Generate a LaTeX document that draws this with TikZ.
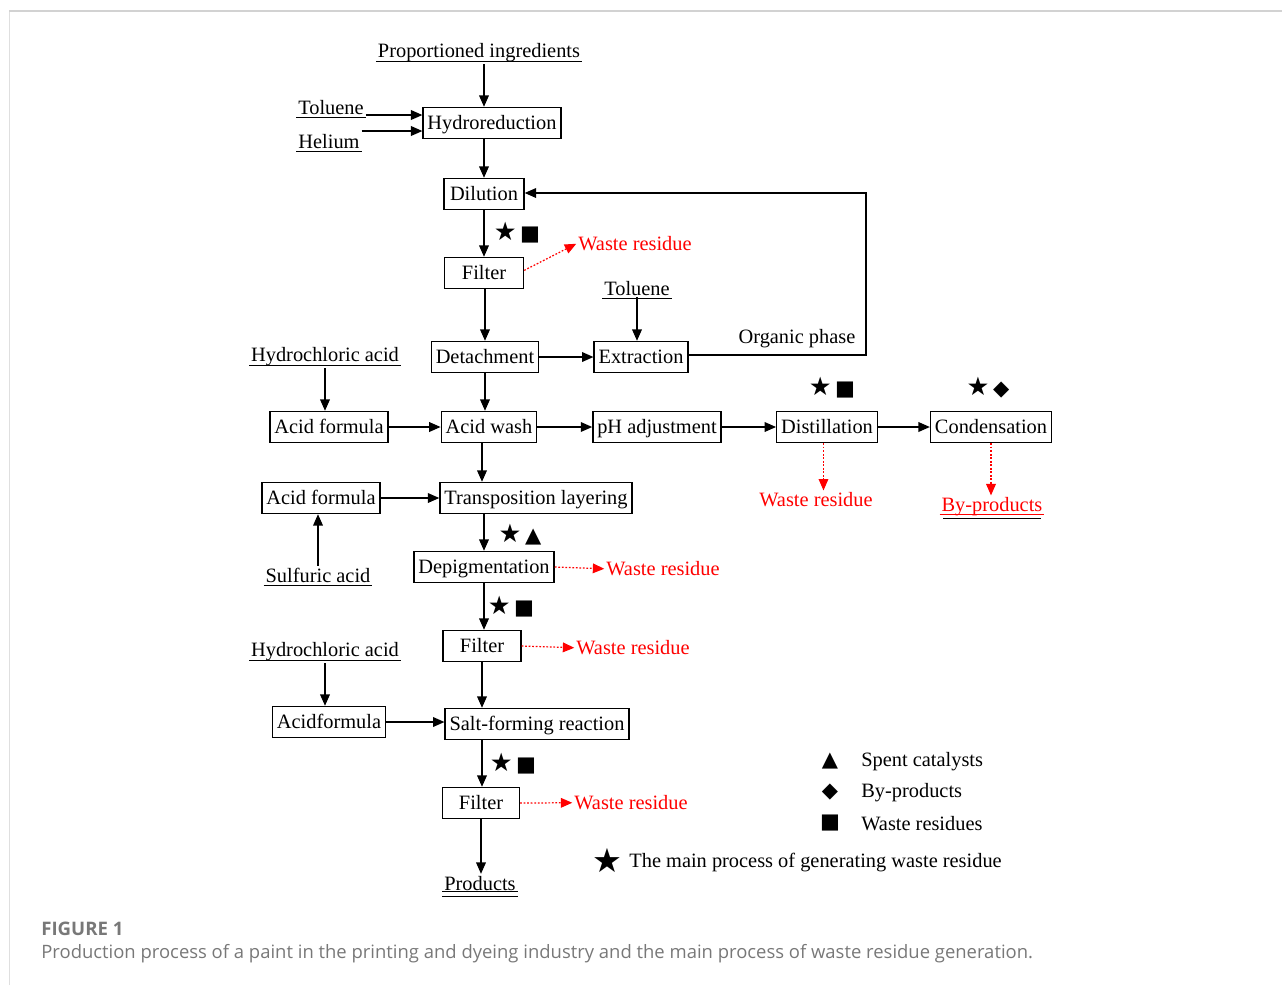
\documentclass[tikz,border=0pt]{standalone}
\usepackage{fontspec}
\setmainfont{Liberation Serif}
\newfontfamily\figcapfont{Open Sans}
\newfontfamily\dvsfont{DejaVu Sans}
\usetikzlibrary{arrows.meta}
\definecolor{capgray}{RGB}{120,120,120}
\definecolor{framegray}{RGB}{210,210,210}
\newcommand{\bigstar}{{\fontsize{14.5}{14}\selectfont★}}

\begin{document}
\begin{tikzpicture}[x=0.02cm,y=-0.02cm,
  font=\fontsize{11.6}{13}\selectfont,
  proc/.style={shape=rectangle,draw=black,line width=0.8pt,inner xsep=2.5pt,inner ysep=0pt,text height=0.82em,text depth=0.12em,minimum height=0.62cm},
  feed/.style={inner sep=1pt,yshift=-1.2pt},
  wtext/.style={text=red,inner sep=1pt,yshift=-1pt},
  sym/.style={inner sep=0pt,font=\dvsfont\fontsize{12}{13}\selectfont},
  note/.style={anchor=west,inner sep=0pt},
  arr/.style={line width=0.8pt,-{Triangle[length=6.5pt,width=5.5pt]}},
  waste/.style={red,line width=0.7pt,dash pattern=on 1pt off 1pt,-{Triangle[length=6.5pt,width=5.5pt]}}]
\useasboundingbox (0,0) rectangle (1282,985);

% frame
\draw[framegray!70,line width=0.5pt] (9,985) -- (9,11);
\draw[framegray,line width=1.2pt] (9,11) -- (1282,11);

% inputs and process steps
\node[feed] (prop) at (479,51) {Proportioned ingredients};
\node[feed] (tol1) at (331,105) {Toluene};
\node[feed] (hel) at (329,139) {Helium};
\node[proc] (hydro) at (492,123) {Hydroreduction};
\node[proc,minimum width=1.6cm] (dil) at (484,194) {Dilution};
\node[proc,minimum width=1.58cm] (filt1) at (484,273) {Filter};
\node[wtext] (wr1) at (635,242) {Waste residue};
\node[feed] (tol2) at (637,286) {Toluene};
\node[proc] (det) at (485,357) {Detachment};
\node[proc] (ext) at (641,357) {Extraction};
\node (org) at (797,339) {Organic phase};
\node[feed] (hcl1) at (325,355) {Hydrochloric acid};
\node[proc] (af1) at (329,427) {Acid formula};
\node[proc] (wash) at (489,427) {Acid wash};
\node[proc] (ph) at (657,427) {pH adjustment};
\node[proc] (dist) at (827,427) {Distillation};
\node[proc] (cond) at (991,427) {Condensation};
\node[wtext] (wr2) at (816,498) {Waste residue};
\node[wtext] (byp) at (992,505) {By-products};
\node[proc] (af2) at (321,498) {Acid formula};
\node[proc] (trans) at (536,498) {Transposition layering};
\node[feed] (sulf) at (318,573) {Sulfuric acid};
\node[proc] (depig) at (484,567) {Depigmentation};
\node[wtext] (wr3) at (663,567) {Waste residue};
\node[proc,minimum width=1.56cm] (filt2) at (482,646) {Filter};
\node[wtext] (wr4) at (633,646) {Waste residue};
\node[feed] (hcl2) at (325,650) {Hydrochloric acid};
\node[proc] (af3) at (329,722) {Acidformula};
\node[proc] (salt) at (537,724) {Salt-forming reaction};
\node[proc,minimum width=1.54cm] (filt3) at (481,803) {Filter};
\node[wtext] (wr5) at (631,801) {Waste residue};
\node[feed] (prod) at (480,881) {Products};

% markers
\node[sym] (s1) at (517,233) {\bigstar\,■};
\node[sym] (s2) at (832,388) {\bigstar\,■};
\node[sym] (s3) at (988,388) {\bigstar\,◆};
\node[sym] (s4) at (520,535) {\bigstar\,▲};
\node[sym] (s5) at (511,607) {\bigstar\,■};
\node[sym] (s6) at (513,764) {\bigstar\,■};

% underlines
\foreach \n in {prop,tol1,hel,tol2,hcl1,sulf,hcl2}
  \draw[line width=0.6pt] ([yshift=-2pt]\n.base west) -- ([yshift=-2pt]\n.base east);
\draw[line width=0.6pt] ([yshift=-1pt]prod.base west) -- ([yshift=-1pt]prod.base east);
\draw[line width=0.6pt] ([yshift=-3.5pt]prod.base west) -- ([yshift=-3.5pt]prod.base east);
\draw[red,line width=0.6pt] ([yshift=-1.5pt]byp.base west) -- ([yshift=-1.5pt]byp.base east);
\draw[line width=0.6pt] ([yshift=-4pt,xshift=2pt]byp.base west) -- ([yshift=-4pt,xshift=-2pt]byp.base east);

% main flow
\draw[arr] (prop.south -| dil) -- (hydro.north -| dil);
\draw[arr] (tol1.east |- 0,115) -- (hydro.west |- 0,115);
\draw[arr] (hel.east |- 0,131) -- (hydro.west |- 0,131);
\draw[arr] (hydro.south -| dil) -- (dil.north);
\draw[arr] (dil.south) -- (filt1.north);
\draw[waste] ([yshift=1.5pt]filt1.east) -- (wr1.west);
\draw[arr] (filt1.south -| det) -- (det.north);
\draw[arr] (tol2.south) -- (tol2.south |- ext.north);
\draw[arr] (det) -- (ext);
\coordinate (loop) at (866,193);
\draw[arr] (ext.east |- 0,355) -| (loop) -- (dil.east |- loop);
\draw[arr] (hcl1.south) -- (hcl1.south |- af1.north);
\draw[arr] (det.south) -- (det.south |- wash.north);
\draw[arr] (af1) -- (wash);
\draw[arr] (wash) -- (ph);
\draw[arr] (ph) -- (dist);
\draw[arr] (dist) -- (cond);
\draw[waste] ([xshift=-2pt]dist.south) -- ([xshift=-2pt]dist.south |- wr2.north);
\draw[waste] (cond.south) -- (cond.south |- byp.north);
\draw[arr] (wash.south -| filt2) -- (filt2 |- trans.north);
\draw[arr] (af2) -- (trans);
\draw[arr] (sulf.north) -- (sulf.north |- af2.south);
\draw[arr] (trans.south -| depig) -- (depig.north);
\draw[waste] (depig.east) -- (wr3.west);
\draw[arr] (depig.south) -- (depig.south |- filt2.north);
\draw[waste] (filt2.east) -- (wr4.west);
\draw[arr] (hcl2.south) -- (hcl2.south |- af3.north);
\draw[arr] (filt2.south) -- (filt2.south |- salt.north);
\draw[arr] (af3.east) -- (salt.west |- af3.east);
\draw[arr] (salt.south -| filt2) -- (filt3.north -| filt2);
\draw[waste] (filt3.east) -- (wr5.west);
\draw[arr] (filt3.south) -- (filt3.south |- prod.north);

% legend
\node[sym] (ktri) at (830,761) {▲};
\node[note] (ltri) at (861,762) {Spent catalysts};
\node[sym] (kdia) at (830,792) {◆};
\node[note] (ldia) at (861,793) {By-products};
\node[sym] (ksq) at (830,823) {■};
\node[note] (lsq) at (861,824) {Waste residues};
\node[sym,font=\dvsfont\fontsize{19}{20}\selectfont] (kstar) at (607,860) {★};
\node[note] (lstar) at (629,863) {The main process of generating waste residue};

% caption
\node[note,text=capgray,font=\figcapfont\fontsize{10.6}{12}\selectfont\bfseries] (figno) at (41,929) {FIGURE 1};
\node[note,text=capgray,font=\figcapfont\fontsize{10.5}{12}\selectfont] (cap) at (41,954) {Production process of a paint in the printing and dyeing industry and the main process of waste residue generation.};
\end{tikzpicture}
\end{document}
